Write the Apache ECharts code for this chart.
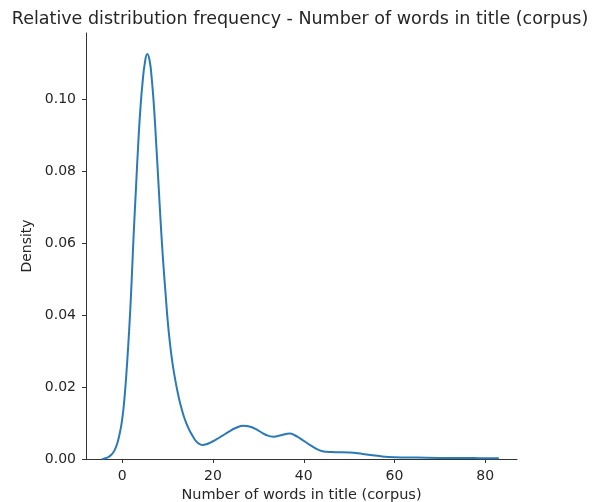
<!DOCTYPE html>
<html>
<head>
<meta charset="utf-8">
<script src="https://cdn.jsdelivr.net/npm/echarts@6/dist/echarts.min.js"></script>
<style>
  html, body { margin: 0; padding: 0; background: #fff; }
  #chart { width: 592px; height: 502px; }
</style>
</head>
<body>
<div id="chart"></div>
<script>
// KDE curve
const xValues = [-4.5, -4.0, -3.5, -3.0, -2.5, -2.0, -1.5, -1.0, -0.5, 0.0, 0.5, 1.0, 1.5, 2.0, 2.5, 3.0, 3.5, 4.0, 4.5, 5.0, 5.5, 6.0, 6.5, 7.0, 7.5, 8.0, 8.5, 9.0, 9.5, 10.0, 10.5, 11.0, 11.5, 12.0, 12.5, 13.0, 13.5, 14.0, 14.5, 15.0, 15.6, 16.3, 17.0, 17.7, 18.5, 19.3, 20.8, 22.0, 23.5, 25.0, 26.7, 28.0, 30.0, 31.5, 33.3, 35.0, 36.9, 38.0, 39.1, 41.5, 43.5, 45.0, 47.0, 50.0, 53.0, 56.7, 60.0, 65.0, 70.0, 75.0, 80.0, 83.0];
const density = [0, 0.0001, 0.0003, 0.0006, 0.0011, 0.0018, 0.003, 0.0048, 0.0075, 0.0112, 0.0172, 0.0255, 0.0355, 0.0478, 0.0622, 0.0748, 0.0872, 0.0975, 0.105, 0.1102, 0.1125, 0.1108, 0.1055, 0.0975, 0.087, 0.076, 0.0648, 0.055, 0.0466, 0.0385, 0.0322, 0.0272, 0.0232, 0.0198, 0.0168, 0.0143, 0.0121, 0.0103, 0.0088, 0.0075, 0.0062, 0.0049, 0.0042, 0.0039, 0.0041, 0.0045, 0.0055, 0.0064, 0.0076, 0.0086, 0.0092, 0.009, 0.0079, 0.0068, 0.0062, 0.0066, 0.0071, 0.0066, 0.0058, 0.0038, 0.0024, 0.002, 0.0019, 0.0018, 0.0014, 0.0008, 0.0005, 0.0004, 0.0003, 0.0003, 0.0002, 0.0002];
const xTicks = [0, 20, 40, 60, 80];
const yTicks = [0, 0.02, 0.04, 0.06, 0.08, 0.1];

const font = 'DejaVu Sans';
const ink = '#262626';

const drawChart = (domElement) => {
  const chart = echarts.init(domElement, null, { renderer: 'canvas' });
  const option = {
    animation: false,
    title: {
      text: 'Relative distribution frequency - Number of words in title (corpus)',
      left: 295,
      textAlign: 'center',
      top: 5,
      textStyle: { fontFamily: font, fontSize: 17.5, fontWeight: 'normal', color: ink },
    },
    grid: { left: 86, right: 75, top: 33, bottom: 43, outerBoundsMode: 'none' },
    xAxis: {
      type: 'value',
      min: -8,
      max: 87,
      name: 'Number of words in title (corpus)',
      nameLocation: 'middle',
      nameGap: 29,
      nameTextStyle: { fontFamily: font, fontSize: 14.5, color: ink },
      axisLine: { show: true, onZero: false, lineStyle: { color: '#333', width: 1 } },
      axisTick: { show: true, length: 4, customValues: xTicks, lineStyle: { color: '#333' } },
      axisLabel: { customValues: xTicks, fontFamily: font, fontSize: 14, color: ink, margin: 10 },
      splitLine: { show: false },
    },
    yAxis: {
      type: 'value',
      min: 0,
      max: 0.1183,
      name: 'Density',
      nameLocation: 'middle',
      nameGap: 51,
      nameTextStyle: { fontFamily: font, fontSize: 14, color: ink },
      axisLine: { show: true, onZero: false, lineStyle: { color: '#333', width: 1 } },
      axisTick: { show: true, length: 4, customValues: yTicks, lineStyle: { color: '#333' } },
      axisLabel: {
        customValues: yTicks,
        fontFamily: font,
        fontSize: 14,
        color: ink,
        margin: 10,
        formatter: (v) => v.toFixed(2),
      },
      splitLine: { show: false },
    },
    series: [
      {
        type: 'line',
        data: xValues.map((x, i) => [x, density[i]]),
        smooth: 0.5,
        showSymbol: false,
        lineStyle: { color: '#2a7ab8', width: 2 },
      },
    ],
  };
  chart.setOption(option);
};

drawChart(document.querySelector('#chart'));
</script>
</body>
</html>
